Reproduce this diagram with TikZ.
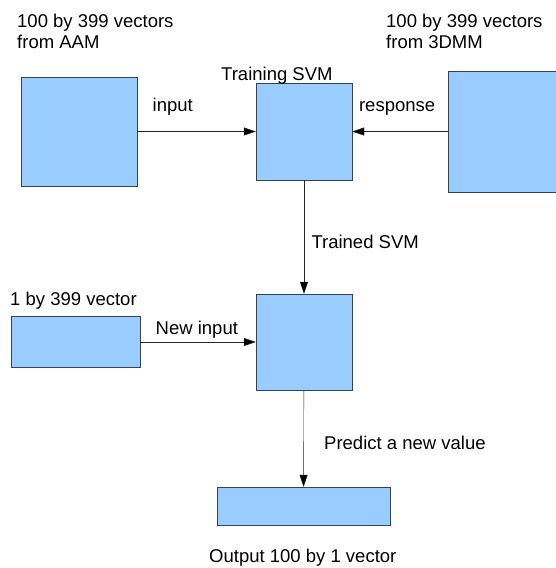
\documentclass[tikz,border=0pt]{standalone}
\usepackage{fontspec}
\setmainfont{Liberation Sans}
\usetikzlibrary{
  arrows.meta,  % Tip "Triangle"
  positioning   % Function "of" (e.g. [right=of x])
}
\definecolor{boxfill}{RGB}{153,204,255}
\definecolor{boxline}{RGB}{55,65,85}
\tikzset{
  font=\fontsize{18.5}{21}\selectfont,
  >={Triangle[length=12pt,width=8pt]},
  line width=0.8pt,
  my box/.style={
    draw=boxline,
    fill=boxfill,
    rectangle,
    inner sep=0pt
  },
  my text/.style={
    inner sep=0pt,
    anchor=base west,
    align=left
  },
  my edge/.style={
    ->,
    draw=black!85
  }
}

\begin{document}
\begin{tikzpicture}[x=1pt,y=-1pt]
\useasboundingbox (0,0) rectangle (556,568);
% boxes
\node[my box,minimum width=116pt,minimum height=109pt] (aam)     at (79,131.5)  {};
\node[my box,minimum width=96pt, minimum height=97pt]  (train)   at (304,131.5) {};
\node[my box,minimum width=120pt,minimum height=121pt] (dmm)     at (508,131.5) {};
\node[my box,minimum width=96pt, minimum height=96pt]  (predict) at (304,342)   {};
\node[my box,minimum width=129pt,minimum height=51pt]  (newvec)  at (75.5,342)  {};
\node[my box,minimum width=173pt,minimum height=38pt]  (output)  at (303.5,506) {};
% captions (base = last line)
\node[my text] (aam text)    at (17,48)   {100 by 399 vectors\\from AAM};
\node[my text] (dmm text)    at (386,48)  {100 by 399 vectors\\from 3DMM};
\node[my text] (train text)  at (221,80)  {Training SVM};
\node[my text] (newvec text) at (10,305)  {1 by 399 vector};
\node[my text] (output text) at (209,562) {Output 100 by 1 vector};
% connectors
\path[my edge] (aam)     edge node[pos=0.30,anchor=base,yshift=20pt]      {input}              (train)
               (dmm)     edge node[pos=0.53,anchor=base,yshift=20pt]      {response}           (train)
               (train)   edge node[pos=0.605,anchor=base west,xshift=4pt] {Trained SVM}        (predict)
               (newvec)  edge node[pos=0.49,anchor=base,yshift=8pt]       {New input}          (predict)
               (predict) edge node[pos=0.61,anchor=base west,xshift=17pt] {Predict a new value} (output);
\end{tikzpicture}
\end{document}
